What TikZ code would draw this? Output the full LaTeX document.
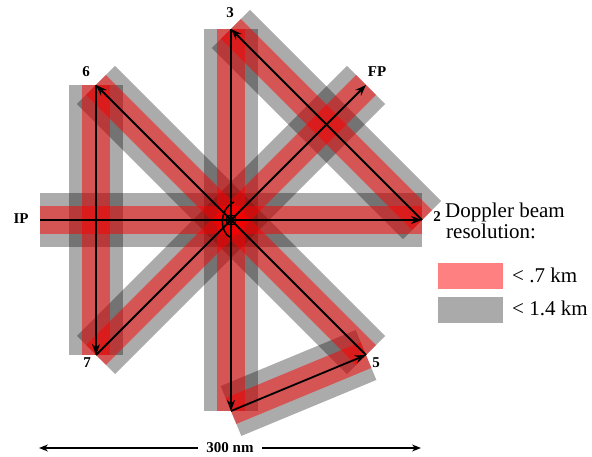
\documentclass[tikz,border=0pt]{standalone}
\usepackage{fontspec}
\setmainfont{Liberation Serif}
\usetikzlibrary{arrows.meta}
\definecolor{legred}{HTML}{FF8080}
\definecolor{leggray}{HTML}{AAAAAA}
\tikzset{
  grayband/.style={line width=54pt, draw=black, draw opacity=0.33, line cap=butt},
  redband/.style={line width=28pt, draw=red, draw opacity=0.5, line cap=butt},
  track/.style={-{Stealth[length=11pt, width=8pt]}, line width=1.8pt, black},
  dimarr/.style={{Stealth[length=9pt, width=7pt]}-{Stealth[length=9pt, width=7pt]}, line width=1.3pt, black},
  ptlab/.style={font=\fontsize{15}{18}\selectfont\bfseries, inner sep=0pt},
  legtext/.style={font=\fontsize{21}{24}\selectfont, inner sep=0pt},
  legbox/.style={minimum width=65pt, minimum height=26pt, inner sep=0pt},
}

\begin{document}
\begin{tikzpicture}[x=1pt, y=-1pt]
  \useasboundingbox (0,0) rectangle (592,457);
  \coordinate (C) at (231,220);
  \coordinate (IP) at (40,220);
  \coordinate (p2) at (422,220);
  \coordinate (p3) at (231,29);
  \coordinate (pB) at (231,411);
  \coordinate (p5) at (366,355);
  \coordinate (p6) at (96,85);
  \coordinate (p7) at (96,355);
  \coordinate (FP) at (366,85);
  \foreach \a/\b in {IP/p2, p2/p3, p3/pB, pB/p5, p5/p6, p6/p7, p7/FP}
    \draw[grayband] (\a) -- (\b);
  \foreach \a/\b in {IP/p2, p2/p3, p3/pB, pB/p5, p5/p6, p6/p7, p7/FP}
    \draw[redband] (\a) -- (\b);
  \foreach \a/\b in {IP/p2, p2/p3, p3/pB, pB/p5, p5/p6, p6/p7, p7/FP}
    \draw[track] (\a) -- (\b);
  \draw[line width=1.3pt] (C) circle[radius=5];
  \draw[line width=1.5pt] (234,202) .. controls (219,209) and (219,232) .. (231,238);
  \node[ptlab] (lIP) at (21,219) {IP};
  \node[ptlab] (l2) at (437,217) {2};
  \node[ptlab] (l3) at (230,13) {3};
  \node[ptlab] (l5) at (376,363) {5};
  \node[ptlab] (l6) at (86,72) {6};
  \node[ptlab] (l7) at (87,363) {7};
  \node[ptlab] (lFP) at (377,72) {FP};
  \node[legtext, anchor=base west] (leg1) at (445,218) {Doppler beam};
  \node[legtext, anchor=base west] (leg2) at (446,239) {resolution:};
  \node[legbox, fill=legred] (bred) at (470,276) {};
  \node[legbox, fill=leggray] (bgray) at (470,310) {};
  \node[legtext, anchor=base west] (tred) at (512,283) {< .7 km};
  \node[legtext, anchor=base west] (tgray) at (512,316) {< 1.4 km};
  \coordinate (dl) at (39,448);
  \coordinate (dr) at (421,448);
  \draw[dimarr] (dl) -- (dr) node[ptlab, midway, fill=white, inner xsep=8pt, inner ysep=2pt] (dim) {300 nm};
\end{tikzpicture}
\end{document}
